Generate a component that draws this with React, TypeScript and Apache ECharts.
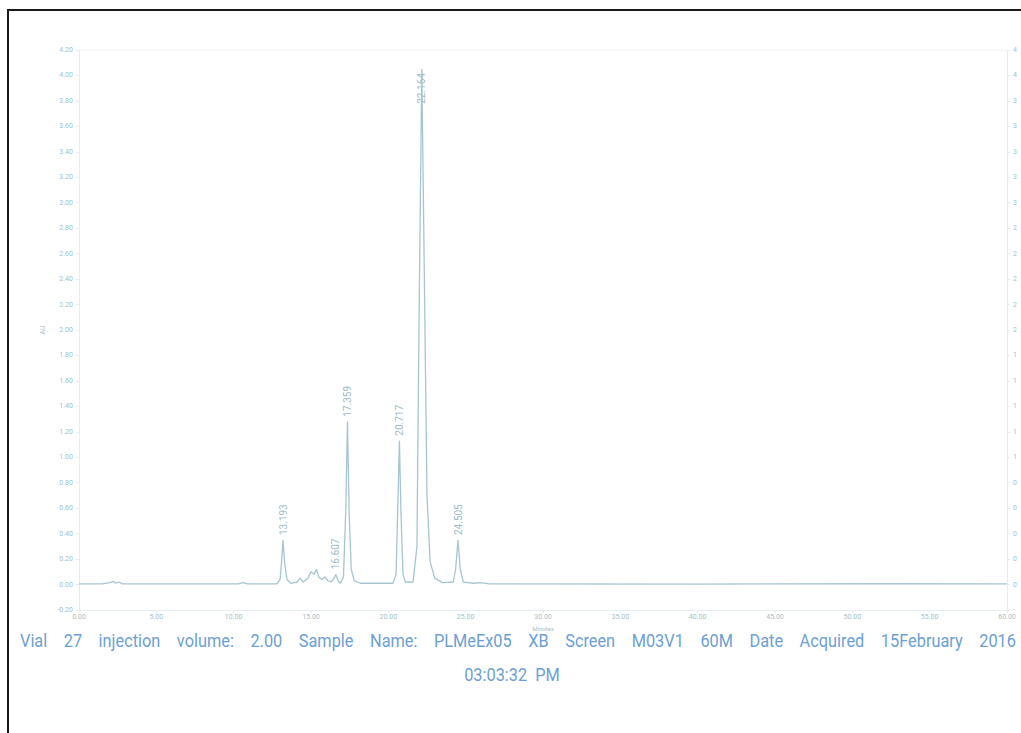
import React, { useEffect, useRef } from "react";
import * as echarts from "echarts";

// Chromatogram trace (minutes, AU)
const traceTimes = [
  0, 1.5, 2.0, 2.2, 2.4, 2.6, 2.8, 10.3, 10.6, 10.9, 12.8, 13.0, 13.1, 13.193, 13.3, 13.45, 13.7,
  14.1, 14.3, 14.5, 14.8, 15.0, 15.2, 15.35, 15.5, 15.7, 15.9, 16.1, 16.3, 16.5, 16.607, 16.75, 16.9,
  17.1, 17.25, 17.359, 17.47, 17.6, 17.8, 18.2, 20.3, 20.5, 20.62, 20.717, 20.82, 20.95, 21.1, 21.6,
  21.85, 22.0, 22.164, 22.32, 22.5, 22.7, 23.0, 23.5, 24.2, 24.35, 24.505, 24.65, 24.85, 25.5, 26.0,
  26.5, 40.0, 52.0, 60.0,
];
const traceValues = [
  0.005, 0.005, 0.015, 0.025, 0.01, 0.02, 0.005, 0.005, 0.015, 0.005, 0.005, 0.04, 0.18, 0.35, 0.16,
  0.04, 0.01, 0.02, 0.05, 0.02, 0.05, 0.1, 0.08, 0.12, 0.06, 0.04, 0.06, 0.03, 0.02, 0.05, 0.08, 0.03,
  0.01, 0.06, 0.6, 1.28, 0.55, 0.12, 0.03, 0.01, 0.01, 0.08, 0.65, 1.13, 0.55, 0.08, 0.02, 0.02, 0.3,
  2.25, 4.05, 2.5, 0.7, 0.18, 0.05, 0.015, 0.02, 0.12, 0.35, 0.12, 0.02, 0.01, 0.015, 0.005, 0.004,
  0.008, 0.005,
];

// Labelled peaks
const peakTimes = [13.193, 16.607, 17.359, 20.717, 22.164, 24.505];
const peakValues = [0.35, 0.08, 1.28, 1.13, 4.05, 0.35];
const peakLabels = ["13.193", "16.607", "17.359", "20.717", "22.164", "24.505"];

const captionWords = [
  "Vial", "27", "injection", "volume:", "2.00", "Sample", "Name:", "PLMeEx05", "XB", "Screen",
  "M03V1", "60M", "Date", "Acquired", "15February", "2016",
];
const captionLine2 = "03:03:32  PM";

const LINE = "#a6c5d0";
const AXIS_TXT = "#a3bfc8";
const PEAK_TXT = "#7fa8b7";
const CAPTION = "#6d9fd2";
const FONT = "Roboto, 'Liberation Sans', sans-serif";
const CAP_SIZE = 19;
const CAP_SCALE = 0.86;

function justifiedX(words: string[], left: number, right: number): number[] {
  const ctx = document.createElement("canvas").getContext("2d");
  const widths = words.map((w) => {
    if (!ctx) return w.length * 9;
    ctx.font = `${CAP_SIZE}px Roboto, sans-serif`;
    return ctx.measureText(w).width * CAP_SCALE;
  });
  const total = widths.reduce((a, b) => a + b, 0);
  const gap = (right - left - total) / (words.length - 1);
  const xs: number[] = [];
  let x = left;
  widths.forEach((w) => {
    xs.push(x);
    x += w + gap;
  });
  return xs;
}

export default function App() {
  const ref = useRef<HTMLDivElement>(null);
  useEffect(() => {
    if (!ref.current) return;
    const chart = echarts.init(ref.current, undefined, { renderer: "svg" });
    const trace = traceTimes.map((t, i) => [t, traceValues[i]]);
    const peaks = peakTimes.map((t, i) => ({
      value: [t, peakValues[i], peakLabels[i]],
      label:
        i === 4
          ? { position: "bottom", align: "right", distance: 4 }
          : { position: "top", align: "left", distance: 5 },
    }));
    const capX = justifiedX(captionWords, 20, 1016);
    const yTickFmt = (v: number) => v.toFixed(2);
    chart.setOption({
      animation: false,
      backgroundColor: "#ffffff",
      grid: { left: 79, right: 14, top: 50, bottom: 123, outerBoundsMode: "none", containLabel: false },
      xAxis: {
        type: "value",
        min: 0,
        max: 60,
        interval: 5,
        name: "Minutes",
        nameLocation: "middle",
        nameGap: 15,
        nameTextStyle: { color: AXIS_TXT, fontSize: 6, fontFamily: FONT },
        axisLine: { show: true, onZero: false, lineStyle: { color: "#e4eef1" } },
        axisTick: { show: true, length: 3, lineStyle: { color: "#e4eef1" } },
        axisLabel: {
          color: AXIS_TXT,
          fontSize: 7,
          fontFamily: FONT,
          margin: 3,
          formatter: (v: number) => v.toFixed(2),
        },
        splitLine: { show: false },
      },
      yAxis: [
        {
          type: "value",
          min: -0.2,
          max: 4.2,
          interval: 0.2,
          name: "AU",
          nameLocation: "middle",
          nameGap: 33,
          nameRotate: 90,
          nameTextStyle: { color: AXIS_TXT, fontSize: 7, fontFamily: FONT },
          axisLine: { show: true, lineStyle: { color: "#e4eef1" } },
          axisTick: { show: true, length: 3, lineStyle: { color: "#e4eef1" } },
          axisLabel: { color: AXIS_TXT, fontSize: 7, fontFamily: FONT, margin: 6, formatter: yTickFmt },
          splitLine: { show: false },
        },
        {
          type: "value",
          min: -0.2,
          max: 4.2,
          interval: 0.2,
          position: "right",
          axisLine: { show: true, lineStyle: { color: "#e4eef1" } },
          axisTick: { show: true, length: 3, lineStyle: { color: "#e4eef1" } },
          axisLabel: {
            color: AXIS_TXT,
            fontSize: 7,
            fontFamily: FONT,
            margin: 6,
            formatter: (v: number) => v.toFixed(2).charAt(0),
          },
          splitLine: { show: false },
        },
      ],
      series: [
        {
          type: "line",
          data: trace,
          showSymbol: false,
          symbol: "none",
          lineStyle: { color: LINE, width: 1.3 },
          silent: true,
        },
        {
          type: "scatter",
          data: peaks,
          symbolSize: 0,
          silent: true,
          label: {
            show: true,
            rotate: 90,
            verticalAlign: "middle",
            color: PEAK_TXT,
            fontSize: 10,
            fontFamily: FONT,
            formatter: (p: any) => p.value[2],
          },
        },
      ],
      graphic: [
        {
          type: "rect",
          shape: { x: 8, y: 10, width: 1030, height: 740 },
          style: { fill: "none", stroke: "#1a1a1a", lineWidth: 2 },
          silent: true,
        },
        {
          type: "line",
          shape: { x1: 79, y1: 50, x2: 1007, y2: 50 },
          style: { stroke: "#eef3f5", lineWidth: 1 },
          silent: true,
        },
        ...captionWords.map((w, i) => ({
          type: "text",
          x: capX[i],
          y: 641,
          scaleX: CAP_SCALE,
          style: {
            text: w,
            fill: CAPTION,
            fontSize: CAP_SIZE,
            fontFamily: FONT,
            textAlign: "left",
            textVerticalAlign: "middle",
          },
          silent: true,
        })),
        {
          type: "text",
          x: 512,
          y: 675,
          scaleX: CAP_SCALE,
          style: {
            text: captionLine2,
            fill: CAPTION,
            fontSize: CAP_SIZE,
            fontFamily: FONT,
            textAlign: "center",
            textVerticalAlign: "middle",
          },
          silent: true,
        },
      ],
    });
    return () => chart.dispose();
  }, []);
  return (
    <div
      ref={ref}
      style={{ position: "fixed", left: 0, top: 0, width: 1021, height: 733, background: "#fff" }}
    />
  );
}
